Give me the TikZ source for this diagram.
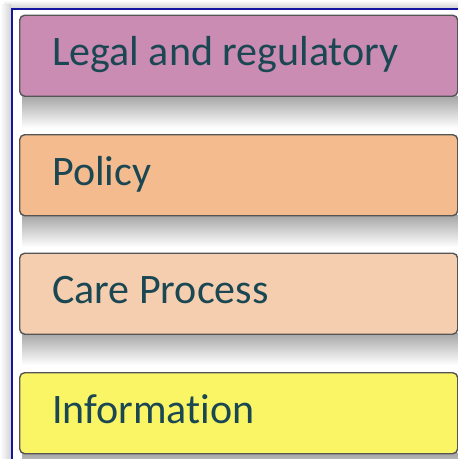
\documentclass[tikz,border=0pt]{standalone}
\usepackage{fontspec}
\setmainfont[Ligatures=NoCommon]{Carlito}
\definecolor{txt}{HTML}{1B4753}
\definecolor{cA}{HTML}{CB8CB4}
\definecolor{cB}{HTML}{F3BB8E}
\definecolor{cC}{HTML}{F5CEB0}
\definecolor{cD}{HTML}{FAF564}
\definecolor{frameblue}{HTML}{1414A0}
\definecolor{edge}{HTML}{555555}
\begin{document}
\begin{tikzpicture}[x=1pt,y=-1pt,
  layerbox/.style={draw=edge, line width=1.4pt, rounded corners=5pt, minimum width=438pt, minimum height=81pt, anchor=north west, inner sep=0pt},
  layertext/.style={text=txt, font=\fontsize{42}{42}\selectfont, anchor=base west, inner sep=0pt}]
\useasboundingbox (0,0) rectangle (458,459);
\fill[white] (0,0) rectangle (458,459);
% outer frame shadow
\shade[top color=white, bottom color=gray!35] (4,0) rectangle (458,8);
\shade[left color=white, right color=gray!35] (0,4) rectangle (11,459);
% frame
\draw[frameblue, line width=2.2pt] (12,470) -- (12,9) -- (470,9);
% box shadows
\foreach \t in {96,215,333,453}{
  \shade[top color=gray!70, bottom color=white] (22,\t) rectangle (458,\t+32);
}
\node[layerbox, fill=cA] (b1) at (19,14.5) {};
\node[layerbox, fill=cB] (b2) at (19,134) {};
\node[layerbox, fill=cC] (b3) at (19,252.5) {};
\node[layerbox, fill=cD] (b4) at (19,372) {};
\node[layertext] (t1) at ([xshift=33pt,yshift=-10pt]b1.west) {Legal and regulatory};
\node[layertext] (t2) at ([xshift=33pt,yshift=-10pt]b2.west) {Policy};
\node[layertext] (t3) at ([xshift=33pt,yshift=-10pt]b3.west) {Care Process};
\node[layertext] (t4) at ([xshift=33pt,yshift=-10pt]b4.west) {Information};
\end{tikzpicture}
\end{document}
